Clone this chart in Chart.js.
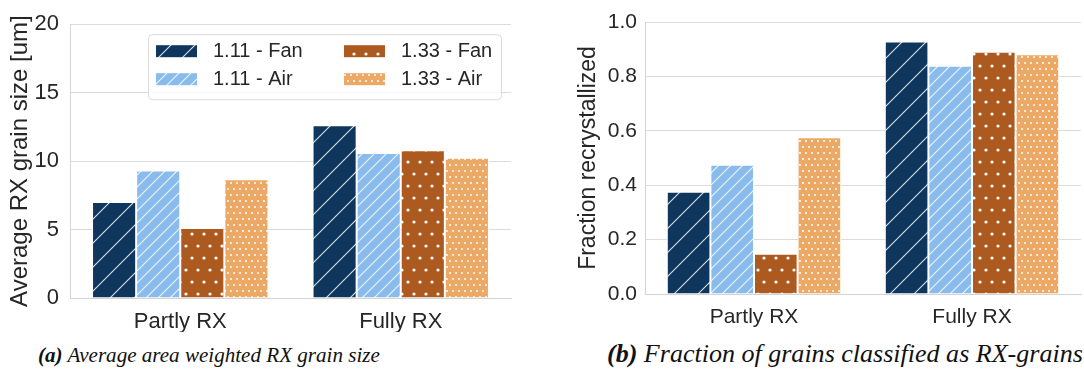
<!DOCTYPE html>
<html>
<head>
<meta charset="utf-8">
<script src="https://cdn.jsdelivr.net/npm/chart.js@4.4.1/dist/chart.umd.min.js"></script>
<style>
html,body{margin:0;padding:0;background:#fff;}
#page{position:relative;width:1084px;height:374px;overflow:hidden;}
canvas{position:absolute;top:0;}
#grainCanvas{left:0;}
#fracCanvas{left:560px;}
.caption{position:absolute;font-family:"Liberation Serif","Times New Roman",serif;font-style:italic;font-size:20px;line-height:1;color:#111;white-space:nowrap;transform:translateY(-50%);}
.caption b{font-weight:bold;}
</style>
</head>
<body>
<div id="page">
<canvas id="grainCanvas" width="520" height="332"></canvas>
<canvas id="fracCanvas" width="524" height="332"></canvas>
<div class="caption" id="capA" style="left:38px;top:356px"><b>(a)</b> Average area weighted RX grain size</div>
<div class="caption" id="capB" style="left:607px;top:354px"><b>(b)</b> Fraction of grains classified as RX-grains</div>
</div>
<script>
const categories = ["Partly RX", "Fully RX"]
const seriesNames = ["1.11 - Fan", "1.11 - Air", "1.33 - Fan", "1.33 - Air"]

// average area weighted RX grain size [um]
const grainFan111 = [7.02, 12.62]
const grainAir111 = [9.31, 10.59]
const grainFan133 = [5.11, 10.80]
const grainAir133 = [8.67, 10.24]
const grainTicks = [0, 5, 10, 15, 20]

// fraction of grains classified as RX-grains
const fracFan111 = [0.376, 0.928]
const fracAir111 = [0.475, 0.839]
const fracFan133 = [0.148, 0.891]
const fracAir133 = [0.576, 0.881]
const fracTicks = [0, 0.2, 0.4, 0.6, 0.8, 1.0]

const seriesColors = ["#0f365c", "#89bbec", "#ad5a20", "#eca865"]
// hatch per series: diagonal lines or staggered dots, spacing in px
const seriesHatch = [
  {kind: "lines", step: 24},
  {kind: "lines", step: 12},
  {kind: "dots", step: 12, r: 1.6},
  {kind: "dots", step: 6, r: 1.0}
]

const FONT = '"Liberation Sans", Arial, sans-serif'
Chart.defaults.font.family = FONT
Chart.defaults.color = "#262626"

function makeFill(ctx, color, hatch){
  const tile = document.createElement("canvas")
  const s = hatch.step
  tile.width = s
  tile.height = hatch.kind == "dots" ? s * 2 : s
  const g = tile.getContext("2d")
  g.fillStyle = color
  g.fillRect(0, 0, tile.width, tile.height)
  if(hatch.kind == "lines"){
    g.strokeStyle = "rgba(255,255,255,0.85)"
    g.lineWidth = 1.1
    g.beginPath()
    g.moveTo(-1, s + 1); g.lineTo(s + 1, -1)
    g.moveTo(-1, 1); g.lineTo(1, -1)
    g.moveTo(s - 1, s + 1); g.lineTo(s + 1, s - 1)
    g.stroke()
  } else {
    g.fillStyle = "#ffffff"
    const pts = [[s / 2, s / 2], [0, s * 1.5], [s, s * 1.5]]
    pts.forEach(p => {
      g.beginPath()
      g.arc(p[0], p[1], hatch.r, 0, Math.PI * 2)
      g.fill()
    })
  }
  return ctx.createPattern(tile, "repeat")
}

// 2x2 legend in the upper part of the plot, filled column by column
const legendBox = {
  id: "legendBox",
  afterDraw(chart){
    const {ctx, chartArea} = chart
    const x0 = chartArea.left + 78, y0 = chartArea.top + 10
    ctx.save()
    ctx.beginPath()
    ctx.roundRect(x0 + 0.5, y0 + 0.5, 353, 65, 4)
    ctx.fillStyle = "rgba(255,255,255,0.8)"
    ctx.fill()
    ctx.strokeStyle = "#dadada"
    ctx.lineWidth = 1
    ctx.stroke()
    chart.data.datasets.forEach((ds, i) => {
      const sx = x0 + 8 + Math.floor(i / 2) * 188
      const sy = y0 + 11 + (i % 2) * 28
      ctx.fillStyle = ds.backgroundColor
      ctx.fillRect(sx, sy, 41, 12)
      ctx.fillStyle = "#262626"
      ctx.font = "20px " + FONT
      ctx.textBaseline = "middle"
      ctx.fillText(ds.label, sx + 57, sy + 6.5)
    })
    ctx.restore()
  }
}

function buildChart(id, series, ticks, title, o){
  const canvas = document.getElementById(id)
  const ctx = canvas.getContext("2d")
  const datasets = series.map((vals, i) => ({
    label: seriesNames[i],
    data: vals,
    backgroundColor: makeFill(ctx, seriesColors[i], seriesHatch[i]),
    borderColor: "rgba(255,255,255,0.9)",
    borderWidth: 1,
    categoryPercentage: 0.8,
    barPercentage: 1.0
  }))
  return new Chart(ctx, {
    type: "bar",
    data: {labels: categories, datasets: datasets},
    plugins: o.legend ? [legendBox] : [],
    options: {
      responsive: false,
      animation: false,
      layout: {padding: {top: o.padTop, right: o.padRight, left: 0, bottom: 0}},
      plugins: {legend: {display: false}, tooltip: {enabled: false}},
      scales: {
        x: {
          grid: {display: false},
          border: {display: true, color: "#d4d4d4"},
          ticks: {font: {size: o.tickSize}, padding: 3},
          afterFit: s => { s.height = o.axisHeight }
        },
        y: {
          min: ticks[0],
          max: ticks[ticks.length - 1],
          afterBuildTicks: s => { s.ticks = ticks.map(v => ({value: v})) },
          grid: {color: "#dcdcdc", drawTicks: false},
          border: {display: true, color: "#d4d4d4"},
          ticks: {font: {size: o.tickSize}, padding: o.tickPad, callback: o.fmt},
          title: {display: true, text: title, font: {size: o.titleSize}, padding: {top: o.titlePad, bottom: 0}},
          afterFit: s => { s.width = o.axisWidth }
        }
      }
    }
  })
}

buildChart("grainCanvas", [grainFan111, grainAir111, grainFan133, grainAir133], grainTicks,
  "Average RX grain size [um]",
  {legend: true, padTop: 16, padRight: 9, axisWidth: 70, axisHeight: 34, tickSize: 22, tickPad: 11,
   titleSize: 24, titlePad: 6, fmt: v => v})

buildChart("fracCanvas", [fracFan111, fracAir111, fracFan133, fracAir133], fracTicks,
  "Fraction recrystallized",
  {legend: false, padTop: 22, padRight: 3, axisWidth: 85, axisHeight: 38, tickSize: 21, tickPad: 8,
   titleSize: 23, titlePad: 15, fmt: v => v.toFixed(1)})

// scale each caption so that it spans its column
function fitCaption(id, width){
  const el = document.getElementById(id)
  const w = el.getBoundingClientRect().width
  el.style.fontSize = (20 * width / w) + "px"
}
fitCaption("capA", 342)
fitCaption("capB", 476)
</script>
</body>
</html>
